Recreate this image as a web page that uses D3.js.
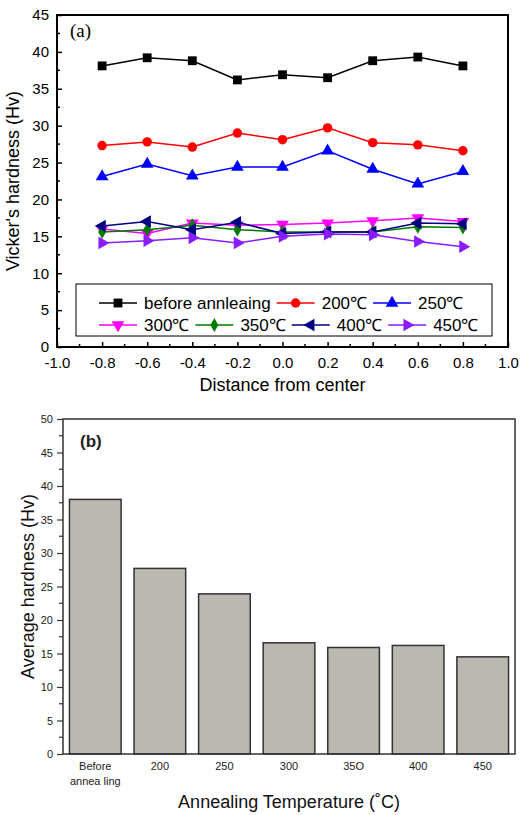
<!DOCTYPE html>
<html><head><meta charset="utf-8">
<script src="https://cdn.jsdelivr.net/npm/d3@7"></script>
<style>body{margin:0;background:#fff}svg{display:block}</style>
</head><body>
<script>
// ---- data, chart (a)
const positions = [-0.8,-0.6,-0.4,-0.2,0.0,0.2,0.4,0.6,0.8];
const seriesNames = ["before annleaing","200\u2103","250\u2103","300\u2103","350\u2103","400\u2103","450\u2103"];
const before = [38.1,39.2,38.8,36.2,36.9,36.5,38.8,39.3,38.1];
const t200 = [27.3,27.8,27.1,29.0,28.1,29.7,27.7,27.4,26.6];
const t250 = [23.1,24.8,23.2,24.4,24.4,26.6,24.1,22.1,23.8];
const t300 = [16.0,15.4,16.8,16.5,16.6,16.8,17.1,17.5,17.0];
const t350 = [15.6,15.9,16.5,15.9,15.6,15.6,15.6,16.3,16.2];
const t400 = [16.4,17.0,15.9,16.9,15.4,15.6,15.6,16.8,16.7];
const t450 = [14.1,14.4,14.8,14.1,15.0,15.3,15.2,14.3,13.6];
const seriesColors = ["#000000","#ff0000","#0000ff","#ff00ff","#007a00","#000080","#8a1cff"];
const seriesMarkers = ["square","circle","triangle","down","diamond","left","right"];
const xTicksA = [-1.0,-0.8,-0.6,-0.4,-0.2,0.0,0.2,0.4,0.6,0.8,1.0];
const yTicksA = [0,5,10,15,20,25,30,35,40,45];

// ---- data, chart (b)
const categories = ["Before annealing","200","250","300","350","400","450"];
const categoryLines = [["Before","annea ling"],["200"],["250"],["300"],["35O"],["400"],["450"]];
const avgHardness = [38.0,27.7,23.9,16.6,15.9,16.2,14.5];
const yTicksB = [0,5,10,15,20,25,30,35,40,45,50];

const W=523,H=815;
const svg=d3.select("body").append("svg").attr("width",W).attr("height",H);
const FONT="Arial, 'Liberation Sans', sans-serif";

// ================= chart (a)
const A={l:57,r:508,t:15,b:347};
const xA=d3.scaleLinear().domain([-1,1]).range([A.l,A.r]);
const yA=d3.scaleLinear().domain([0,45]).range([A.b,A.t]);
const gA=svg.append("g");

// minor ticks (inward)
const minorX=d3.range(-0.9,1.0,0.2);
const minorY=d3.range(2.5,45,5);
gA.append("g").selectAll("line").data(minorX).join("line")
  .attr("x1",d=>xA(d)).attr("x2",d=>xA(d)).attr("y1",A.b).attr("y2",A.b-3)
  .attr("stroke","#000").attr("stroke-width",1.5);
gA.append("g").selectAll("line").data(minorY).join("line")
  .attr("y1",d=>yA(d)).attr("y2",d=>yA(d)).attr("x1",A.l).attr("x2",A.l+3)
  .attr("stroke","#000").attr("stroke-width",1.5);

const axXA=gA.append("g").attr("transform",`translate(0,${A.b})`)
  .call(d3.axisBottom(xA).tickValues(xTicksA).tickSize(-5).tickPadding(10).tickFormat(d=>d.toFixed(1)));
const axYA=gA.append("g").attr("transform",`translate(${A.l},0)`)
  .call(d3.axisLeft(yA).tickValues(yTicksA).tickSize(-5).tickPadding(8));
[axXA,axYA].forEach(a=>{
  a.select(".domain").remove();
  a.selectAll(".tick line").attr("stroke","#000").attr("stroke-width",1.5);
  a.selectAll("text").attr("font-family",FONT).attr("font-size",15).attr("fill","#000");
});
axXA.selectAll("text").attr("dy","0.71em");
// frame
gA.append("rect").attr("x",A.l).attr("y",A.t).attr("width",A.r-A.l).attr("height",A.b-A.t)
  .attr("fill","none").attr("stroke","#000").attr("stroke-width",2);

function symbolPath(type){
  switch(type){
    case "square": return {d:d3.symbol(d3.symbolSquare,78)(),rot:0};
    case "circle": return {d:d3.symbol(d3.symbolCircle,70)(),rot:0};
    case "triangle": return {d:d3.symbol(d3.symbolTriangle,70)(),rot:0};
    case "down": return {d:d3.symbol(d3.symbolTriangle,70)(),rot:180};
    case "left": return {d:d3.symbol(d3.symbolTriangle,70)(),rot:-90};
    case "right": return {d:d3.symbol(d3.symbolTriangle,70)(),rot:90};
    case "diamond": return {d:d3.symbol(d3.symbolDiamond,55)(),rot:0};
  }
}

const allSeries=[before,t200,t250,t300,t350,t400,t450];
const line=d3.line().x((d,i)=>xA(positions[i])).y(d=>yA(d));
allSeries.forEach((vals,si)=>{
  const g=gA.append("g");
  g.append("path").attr("d",line(vals)).attr("fill","none")
    .attr("stroke",seriesColors[si]).attr("stroke-width",1.5);
  const s=symbolPath(seriesMarkers[si]);
  g.selectAll("path.m").data(vals).join("path").attr("class","m")
    .attr("d",s.d).attr("fill",seriesColors[si])
    .attr("transform",(d,i)=>`translate(${xA(positions[i])},${yA(d)}) rotate(${s.rot})`);
});

// legend
const leg=gA.append("g");
leg.append("rect").attr("x",76).attr("y",284).attr("width",416).attr("height",52)
  .attr("fill","#fff").attr("stroke","#000").attr("stroke-width",1);
const rows=[[0,1,2],[3,4,5,6]];
const rowY=[303,325];
rows.forEach((row,ri)=>{
  let x=99;
  row.forEach(si=>{
    const y=rowY[ri];
    leg.append("line").attr("x1",x).attr("x2",x+38).attr("y1",y).attr("y2",y)
      .attr("stroke",seriesColors[si]).attr("stroke-width",1.5);
    const s=symbolPath(seriesMarkers[si]);
    leg.append("path").attr("d",s.d).attr("fill",seriesColors[si])
      .attr("transform",`translate(${x+19},${y}) rotate(${s.rot})`);
    const t=leg.append("text").attr("x",x+45).attr("y",y).attr("dy","0.36em")
      .attr("font-family",FONT).attr("font-size",17).text(seriesNames[si]);
    x=x+45+t.node().getComputedTextLength()+6;
  });
});

gA.append("text").attr("x",70).attr("y",37).attr("font-family","'Times New Roman','Liberation Serif',serif")
  .attr("font-size",19).text("(a)");
gA.append("text").attr("x",(A.l+A.r)/2).attr("y",391).attr("text-anchor","middle")
  .attr("font-family",FONT).attr("font-size",18).text("Distance from center");
gA.append("text").attr("transform",`translate(19,${(A.t+A.b)/2}) rotate(-90)`).attr("text-anchor","middle")
  .attr("font-family",FONT).attr("font-size",18).text("Vicker's hardness (Hv)");

// ================= chart (b)
const B={l:63,r:515,t:419,b:754};
const xB=d3.scaleBand().domain(categories).range([B.l,B.r]).paddingInner(0.2).paddingOuter(0.1);
const yB=d3.scaleLinear().domain([0,50]).range([B.b,B.t]);
const gB=svg.append("g");

gB.append("g").selectAll("rect").data(avgHardness).join("rect")
  .attr("x",(d,i)=>xB(categories[i])).attr("width",xB.bandwidth())
  .attr("y",d=>yB(d)).attr("height",d=>yB(0)-yB(d))
  .attr("fill","#bbb7b1").attr("stroke","#333").attr("stroke-width",1.5);

// minor y ticks outward
gB.append("g").selectAll("line").data(d3.range(2.5,50,5)).join("line")
  .attr("y1",d=>yB(d)).attr("y2",d=>yB(d)).attr("x1",B.l).attr("x2",B.l-4)
  .attr("stroke","#333").attr("stroke-width",1.2);
const axYB=gB.append("g").attr("transform",`translate(${B.l},0)`)
  .call(d3.axisLeft(yB).tickValues(yTicksB).tickSize(6).tickPadding(4));
axYB.select(".domain").remove();
axYB.selectAll(".tick line").attr("stroke","#333").attr("stroke-width",1.2);
axYB.selectAll("text").attr("font-family",FONT).attr("font-size",11).attr("fill","#222");

// x labels
const xl=gB.append("g");
categories.forEach((c,i)=>{
  const cx=xB(c)+xB.bandwidth()/2;
  categoryLines[i].forEach((ln,k)=>{
    xl.append("text").attr("x",cx).attr("y",770+k*15).attr("text-anchor","middle")
      .attr("font-family",FONT).attr("font-size",11).attr("fill","#222").text(ln);
  });
});
// frame
gB.append("rect").attr("x",B.l).attr("y",B.t).attr("width",B.r-B.l).attr("height",B.b-B.t)
  .attr("fill","none").attr("stroke","#333").attr("stroke-width",1.5);

gB.append("text").attr("x",80).attr("y",447).attr("font-family",FONT).attr("font-weight","bold")
  .attr("font-size",17).attr("fill","#222").text("(b)");
gB.append("text").attr("x",(B.l+B.r)/2).attr("y",808).attr("text-anchor","middle")
  .attr("font-family",FONT).attr("font-size",18).attr("fill","#111").text("Annealing Temperature (\u02daC)");
gB.append("text").attr("transform",`translate(34,${(B.t+B.b)/2}) rotate(-90)`).attr("text-anchor","middle")
  .attr("font-family",FONT).attr("font-size",18).attr("fill","#111").text("Average hardness (Hv)");
</script>
</body></html>
